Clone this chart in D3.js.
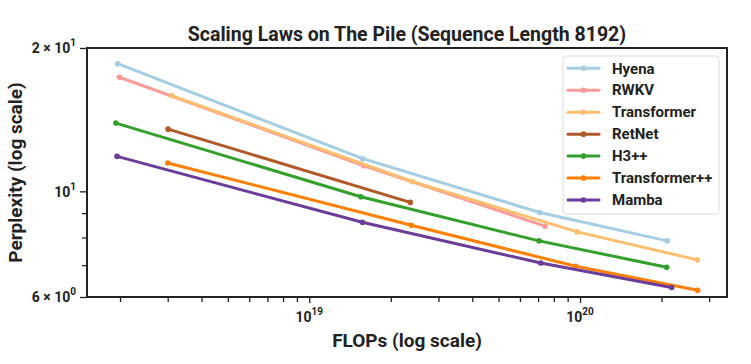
<!DOCTYPE html>
<html><head><meta charset="utf-8">
<script src="https://cdn.jsdelivr.net/npm/d3@7"></script>
<style>
body{margin:0;background:#fff;}
text{font-family:Roboto,"Liberation Sans",sans-serif;fill:#222;}
</style></head>
<body><svg id="c" width="751" height="364"></svg>
<script>
const seriesNames = ["Hyena","RWKV","Transformer","RetNet","H3++","Transformer++","Mamba"];
const seriesColors = ["#a6cee3","#fb9a99","#fdbf6f","#b15928","#33a02c","#ff7f00","#6a3d9a"];
const hyenaFlops = [1.96e18, 1.575e19, 7.1e19, 2.1e20];
const hyenaPpl   = [18.54, 11.71, 9.03, 7.87];
const rwkvFlops  = [1.99e18, 1.59e19, 7.43e19];
const rwkvPpl    = [17.36, 11.32, 8.45];
const transformerFlops = [3.1e18, 2.4e19, 9.77e19, 2.71e20];
const transformerPpl   = [15.89, 10.49, 8.22, 7.18];
const retnetFlops = [3.01e18, 2.36e19];
const retnetPpl   = [13.51, 9.48];
const h3Flops = [1.93e18, 1.55e19, 7.06e19, 2.09e20];
const h3Ppl   = [13.91, 9.74, 7.87, 6.93];
const tppFlops = [3.0e18, 2.38e19, 9.64e19, 2.72e20];
const tppPpl   = [11.47, 8.49, 6.96, 6.20];
const mambaFlops = [1.95e18, 1.57e19, 7.16e19, 2.18e20];
const mambaPpl   = [11.84, 8.61, 7.07, 6.28];
const xMajorTicks = [1e19, 1e20];
const xMajorLabels = [["10","19"],["10","20"]];
const xMinorTicks = [2e18,3e18,4e18,5e18,6e18,7e18,8e18,9e18,2e19,3e19,4e19,5e19,6e19,7e19,8e19,9e19,2e20,3e20];
const yMajorTicks = [20, 10, 6];
const yMajorLabels = [["2 × 10","1"],["10","1"],["6 × 10","0"]];
const yMinorTicks = [7, 8, 9];
const xDomain = [1.51e18, 3.49e20];
const yDomain = [6, 20];

const flopsList = [hyenaFlops, rwkvFlops, transformerFlops, retnetFlops, h3Flops, tppFlops, mambaFlops];
const pplList = [hyenaPpl, rwkvPpl, transformerPpl, retnetPpl, h3Ppl, tppPpl, mambaPpl];
const series = seriesNames.map((n,i)=>({name:n,color:seriesColors[i],pts:flopsList[i].map((f,j)=>({x:f,y:pplList[i][j]}))}));

const svg = d3.select("#c");
const L=87, R=727, T=48, B=297;
const x = d3.scaleLog().domain(xDomain).range([L,R]);
const y = d3.scaleLog().domain(yDomain).range([B,T]);

// lines
const line = d3.line().x(d=>x(d.x)).y(d=>y(d.y));
const g = svg.append("g");
series.forEach(s=>{
  g.append("path").attr("d",line(s.pts)).attr("fill","none").attr("stroke",s.color).attr("stroke-width",3).attr("stroke-linecap","round");
  g.selectAll(null).data(s.pts).enter().append("circle").attr("cx",d=>x(d.x)).attr("cy",d=>y(d.y)).attr("r",2.8).attr("fill",s.color);
});

// axes
const ax = svg.append("g");
const xAxisMajor = d3.axisBottom(x).tickValues(xMajorTicks).tickSize(6).tickFormat("");
const xAxisMinor = d3.axisBottom(x).tickValues(xMinorTicks).tickSize(5).tickFormat("");
const yAxisMajor = d3.axisLeft(y).tickValues(yMajorTicks).tickSize(7).tickFormat("");
const yAxisMinor = d3.axisLeft(y).tickValues(yMinorTicks).tickSize(5).tickFormat("");
[ [xAxisMajor,`translate(0,${B})`],[xAxisMinor,`translate(0,${B})`],[yAxisMajor,`translate(${L},0)`],[yAxisMinor,`translate(${L},0)`] ].forEach(([a,t])=>{
  const gg = ax.append("g").attr("transform",t).call(a);
  gg.select(".domain").remove();
  gg.selectAll("line").attr("stroke","#222").attr("stroke-width",1.3);
});
// tick labels
xMajorTicks.forEach((v,i)=>{
  const t = ax.append("text").attr("x",x(v)).attr("y",B+25).attr("text-anchor","middle").attr("font-size",14).attr("font-weight","bold");
  t.append("tspan").text(xMajorLabels[i][0]);
  t.append("tspan").attr("dy",-7).attr("font-size",10).text(xMajorLabels[i][1]);
});
yMajorTicks.forEach((v,i)=>{
  const t = ax.append("text").attr("x",L-11).attr("y",y(v)+5.3).attr("text-anchor","end").attr("font-size",14).attr("font-weight","bold");
  t.append("tspan").text(yMajorLabels[i][0]);
  t.append("tspan").attr("dy",-7).attr("font-size",10).text(yMajorLabels[i][1]);
});
// frame
svg.append("rect").attr("x",L).attr("y",T).attr("width",R-L).attr("height",B-T).attr("fill","none").attr("stroke","#222").attr("stroke-width",2);

// title and labels
svg.append("text").attr("x",(L+R)/2).attr("y",41).attr("text-anchor","middle").attr("font-size",19.5).attr("font-weight","bold").text("Scaling Laws on The Pile (Sequence Length 8192)");
svg.append("text").attr("x",(L+R)/2).attr("y",347).attr("text-anchor","middle").attr("font-size",19).attr("font-weight","bold").text("FLOPs (log scale)");
svg.append("text").attr("transform",`translate(22,${(T+B)/2}) rotate(-90)`).attr("text-anchor","middle").attr("font-size",19).attr("font-weight","bold").text("Perplexity (log scale)");

// legend
const lg = svg.append("g");
lg.append("rect").attr("x",563).attr("y",56).attr("width",156).attr("height",158).attr("rx",3).attr("fill","#fff").attr("fill-opacity",0.85).attr("stroke","#ddd").attr("stroke-width",1);
series.forEach((s,i)=>{
  const yy = 68.3 + i*21.95;
  lg.append("line").attr("x1",568).attr("x2",599).attr("y1",yy).attr("y2",yy).attr("stroke",s.color).attr("stroke-width",3).attr("stroke-linecap","round");
  lg.append("circle").attr("cx",583.5).attr("cy",yy).attr("r",2.8).attr("fill",s.color);
  lg.append("text").attr("x",612).attr("y",yy+5.2).attr("font-size",15).attr("font-weight","bold").text(s.name);
});
</script></body></html>
